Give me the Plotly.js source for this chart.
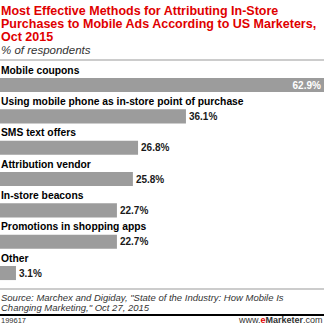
<!DOCTYPE html>
<html>
<head>
<meta charset="utf-8">
<script src="https://cdn.plot.ly/plotly-3.0.1.min.js"></script>
<style>
  html, body { margin: 0; padding: 0; background: #fff; }
  #chart { width: 324px; height: 326px; }
</style>
</head>
<body>
<div id="chart"></div>
<script>
const categories = [
  "Mobile coupons",
  "Using mobile phone as in-store point of purchase",
  "SMS text offers",
  "Attribution vendor",
  "In-store beacons",
  "Promotions in shopping apps",
  "Other"
];
const values = [62.9, 36.1, 26.8, 25.8, 22.7, 22.7, 3.1];
const valueLabels = ["62.9%", "36.1%", "26.8%", "25.8%", "22.7%", "22.7%", "3.1%"];

const titleLines = [
  "Most Effective Methods for Attributing In-Store",
  "Purchases to Mobile Ads According to US Marketers,",
  "Oct 2015"
];
const subtitle = "% of respondents";
const sourceLines = [
  "Source: Marchex and Digiday, \"State of the Industry: How Mobile Is",
  "Changing Marketing,\" Oct 27, 2015"
];
const chartId = "199617";

const FONT = "Liberation Sans, Arial, Helvetica, sans-serif";
const PLOT_TOP = 60, PLOT_BOTTOM = 289;
const positions = categories.map((c, i) => i);
const maxVal = Math.max(...values);

const trace = {
  type: "bar",
  orientation: "h",
  x: values,
  y: positions,
  width: 0.45,
  marker: { color: "#9c9c9c", line: { width: 0 } },
  text: valueLabels,
  textposition: values.map(v => v === maxVal ? "inside" : "outside"),
  insidetextanchor: "end",
  constraintext: "none",
  insidetextfont: { family: FONT, size: 10, color: "#ffffff", weight: "bold" },
  outsidetextfont: { family: FONT, size: 10, color: "#1a1a1a", weight: "bold" },
  textfont: { family: FONT, size: 10, weight: "bold" },
  cliponaxis: false,
  hoverinfo: "none"
};

// helper: place text centered at pixel row Y (outside the plot area)
function pxY(Y) {
  if (Y < PLOT_TOP) return { y: 1, yshift: PLOT_TOP - Y };
  return { y: 0, yshift: PLOT_BOTTOM - Y };
}

const annotations = categories.map((c, i) => ({
  xref: "paper", yref: "y",
  x: 0, y: i,
  xanchor: "left", yanchor: "middle",
  yshift: 15, xshift: -1,
  text: "<b>" + c + "</b>",
  showarrow: false,
  font: { family: FONT, size: 10.3, color: "#000" }
}));

const titleY = [11, 24, 37];
titleLines.forEach((t, i) => {
  const p = pxY(titleY[i]);
  annotations.push({
    xref: "paper", yref: "paper", x: 0, y: p.y, yshift: p.yshift,
    xanchor: "left", yanchor: "middle", xshift: -1,
    text: "<b>" + t + "</b>", showarrow: false,
    font: { family: FONT, size: 12.5, color: "#e00000" }
  });
});

{
  const p = pxY(50);
  annotations.push({
    xref: "paper", yref: "paper", x: 0, y: p.y, yshift: p.yshift,
    xanchor: "left", yanchor: "middle", xshift: -1,
    text: "<i>" + subtitle + "</i>", showarrow: false,
    font: { family: FONT, size: 11.5, color: "#333" }
  });
}

const sourceY = [297.5, 307.5];
sourceLines.forEach((t, i) => {
  const p = pxY(sourceY[i]);
  annotations.push({
    xref: "paper", yref: "paper", x: 0, y: p.y, yshift: p.yshift,
    xanchor: "left", yanchor: "middle", xshift: -1,
    text: "<i>" + t + "</i>", showarrow: false,
    font: { family: FONT, size: 9.5, color: "#333" }
  });
});

{
  const p = pxY(320);
  annotations.push({
    xref: "paper", yref: "paper", x: 0, y: p.y, yshift: p.yshift,
    xanchor: "left", yanchor: "middle", xshift: -1,
    text: chartId, showarrow: false,
    font: { family: FONT, size: 7.5, color: "#333" }
  });
  annotations.push({
    xref: "paper", yref: "paper", x: 1, y: p.y, yshift: p.yshift,
    xanchor: "right", yanchor: "middle", xshift: 1,
    text: "www.<b><span style='color:#e00000'>e</span>Marketer</b>.com", showarrow: false,
    font: { family: FONT, size: 9, color: "#333" }
  });
}

const plotH = PLOT_BOTTOM - PLOT_TOP;
const thickY = (PLOT_BOTTOM - 315) / plotH;

const layout = {
  width: 324, height: 326,
  margin: { l: 0, r: 0, t: PLOT_TOP, b: 326 - PLOT_BOTTOM, pad: 0 },
  paper_bgcolor: "#fff", plot_bgcolor: "#fff",
  showlegend: false,
  xaxis: {
    range: [0, 62.9], showgrid: false, zeroline: false, showticklabels: false,
    showline: false, ticks: "", fixedrange: true
  },
  yaxis: {
    range: [6.51, -0.8], showgrid: false, zeroline: false, showticklabels: false,
    showline: false, ticks: "", fixedrange: true
  },
  annotations: annotations,
  shapes: [
    { type: "line", xref: "paper", yref: "paper", x0: 0, x1: 1, y0: 1, y1: 1,
      line: { color: "#999", width: 1 } },
    { type: "line", xref: "paper", yref: "paper", x0: 0, x1: 1, y0: 0, y1: 0,
      line: { color: "#999", width: 1 } },
    { type: "line", xref: "paper", yref: "paper", x0: 0, x1: 1, y0: thickY, y1: thickY,
      line: { color: "#000", width: 2 } }
  ]
};

Plotly.newPlot("chart", [trace], layout, { displayModeBar: false, staticPlot: true });
</script>
</body>
</html>
